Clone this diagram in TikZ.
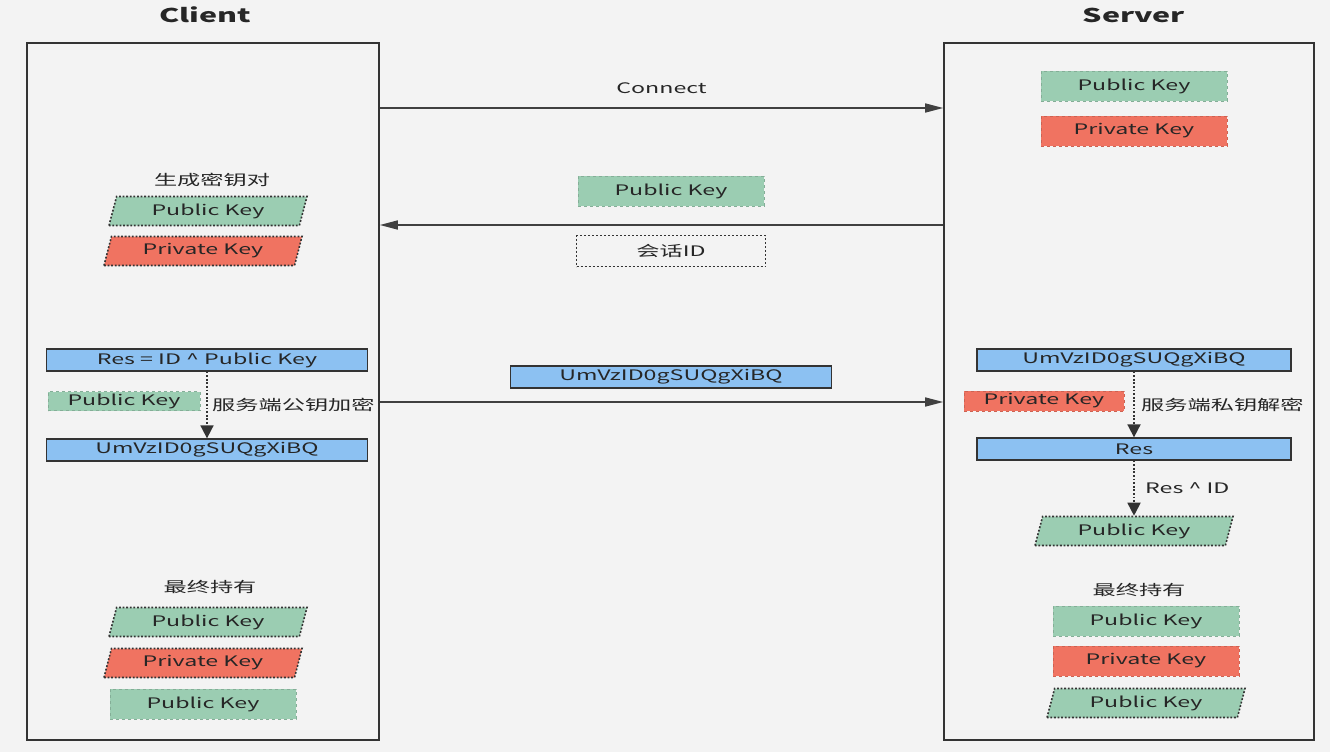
\documentclass[tikz,border=0pt]{standalone}
\usepackage{fontspec}
\setmainfont{Noto Sans CJK SC}[FakeStretch=1.6]
\usetikzlibrary{shapes.geometric,arrows.meta,positioning}
\definecolor{bggray}{HTML}{F3F3F3}
\definecolor{keygreen}{HTML}{9BCDB2}
\definecolor{keyred}{HTML}{F07361}
\definecolor{resblue}{HTML}{8CC1F2}
\tikzset{
  every node/.style={font=\fontsize{14.5}{17}\selectfont, text=black!85},
  title/.style={font=\bfseries\fontsize{19}{22}\selectfont},
  frame/.style={draw=black!80, line width=1.6pt, inner sep=0pt},
  keybox/.style={rectangle, fill=#1, draw=#1!85!black, dashed, minimum width=186pt, minimum height=30pt, inner sep=0pt},
  keypara/.style={trapezium, trapezium left angle=63, trapezium right angle=117, trapezium stretches body=true, fill=#1, draw=black!80, dash pattern=on 1.8pt off 1.8pt, line width=1.6pt, minimum width=198pt, minimum height=29pt, inner sep=0pt},
  bluebox/.style={rectangle, fill=resblue, draw=black!80, line width=1.3pt, minimum width=321pt, minimum height=22pt, inner sep=0pt},
  sessbox/.style={rectangle, draw=black!80, dash pattern=on 2pt off 2pt, line width=1.8pt, minimum width=189pt, minimum height=31pt, inner sep=0pt},
  msg/.style={-{Triangle[length=18pt,width=9pt]}, line width=1.5pt, draw=black!75},
  flow/.style={-{Triangle[length=13pt,width=13pt]}, dash pattern=on 1.8pt off 1.8pt, line width=1.8pt, draw=black!80}
}
\begin{document}
\begin{tikzpicture}[x=1pt,y=-1pt]
  \fill[bggray] (0,0) rectangle (1330,752);
  \useasboundingbox (0,0) rectangle (1330,752);

  % the two sides
  \node[title] (cltitle) at (205,15) {Client};
  \node[title] (svtitle) at (1134,15) {Server};
  \node[frame, minimum width=352pt, minimum height=697pt] (client) at (203,391.5) {};
  \node[frame, minimum width=370pt, minimum height=697pt] (server) at (1129,391.5) {};

  % client side
  \node (cgen) at (212,180) {生成密钥对};
  \node[keypara=keygreen] (cpub) at (208,211) {Public Key};
  \node[keypara=keyred] (cpriv) at (203,251) {Private Key};
  \node[bluebox] (cres) at (207,360) {Res = ID \textasciicircum{} Public Key};
  \node[keybox=keygreen, minimum width=152pt, minimum height=19pt] (cspub) at (124,401) {Public Key};
  \node[bluebox] (cenc) at (207,450) {UmVzID0gSUQgXiBQ};
  \draw[flow] (cres) -- (cenc) node[midway, right=1pt] {服务端公钥加密};
  \node (cfinal) at (210,587) {最终持有};
  \node[keypara=keygreen] (cfpub) at (208,622) {Public Key};
  \node[keypara=keyred] (cfpriv) at (203,663) {Private Key};
  \node[keybox=keygreen] (cfspub) at (203,704) {Public Key};

  % messages
  \coordinate (y1) at (0,108);
  \coordinate (y2) at (0,225);
  \coordinate (y3) at (0,402);
  \draw[msg] (client.east |- y1) -- (server.west |- y1) node[midway, above=10pt] {Connect};
  \node[keybox=keygreen] (mpub) at (671,191) {Public Key};
  \draw[msg] (server.west |- y2) -- (client.east |- y2);
  \node[sessbox] (msid) at (671,251) {会话ID};
  \node[bluebox] (menc) at (671,377) {UmVzID0gSUQgXiBQ};
  \draw[msg] (client.east |- y3) -- (server.west |- y3);

  % server side
  \node[keybox=keygreen] (spub) at (1134,86) {Public Key};
  \node[keybox=keyred] (spriv) at (1134,131) {Private Key};
  \node[bluebox, minimum width=314pt] (senc) at (1134,360) {UmVzID0gSUQgXiBQ};
  \node[keybox=keyred, minimum width=160pt, minimum height=20pt] (sspriv) at (1044,401) {Private Key};
  \node[bluebox, minimum width=314pt] (sres) at (1134,449) {Res};
  \draw[flow] (senc) -- (sres) node[midway, right=3pt] {服务端私钥解密};
  \node[keypara=keygreen] (sgot) at (1134,531) {Public Key};
  \draw[flow] (sres) -- (sgot) node[midway, right=7pt] {Res \textasciicircum{} ID};
  \node (sfinal) at (1139,590) {最终持有};
  \node[keybox=keygreen] (sfpub) at (1146,621) {Public Key};
  \node[keybox=keyred] (sfpriv) at (1146,661) {Private Key};
  \node[keypara=keygreen] (sfgot) at (1146,703) {Public Key};
\end{tikzpicture}
\end{document}
